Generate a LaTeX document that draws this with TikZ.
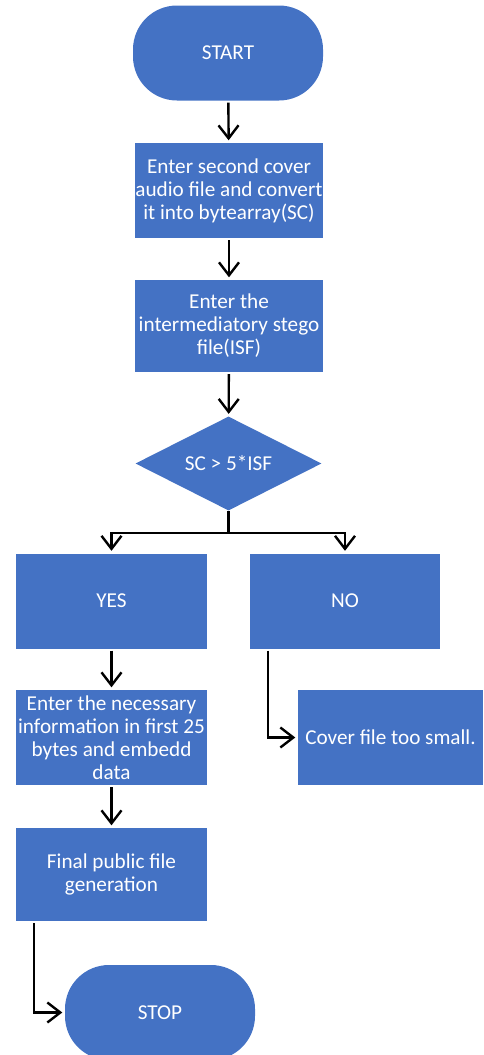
\documentclass[tikz,border=0pt]{standalone}
\usepackage{fontspec}
\setmainfont{Carlito}
\usetikzlibrary{shapes.geometric,arrows.meta,calc}
\definecolor{boxblue}{HTML}{4472C4}
\begin{document}
\begin{tikzpicture}[x=1pt,y=-1pt,
  font=\fontsize{21.2}{23}\selectfont,
  base/.style={fill=boxblue,draw=none,text=white,align=center,inner sep=0pt},
  procbox/.style={base,rectangle,minimum width=#1,minimum height=95pt},
  procbox/.default=191pt,
  terminal/.style={base,rectangle,rounded corners=44pt,minimum width=190pt,minimum height=95pt},
  decision/.style={base,diamond,aspect=2,minimum width=186pt,minimum height=94pt},
  wire/.style={draw=black,line width=2.4pt},
  flow/.style={wire,-{Straight Barb[length=13pt,width=20pt,line width=2.4pt]},shorten <=2pt,shorten >=2.5pt}]
\useasboundingbox (0,0) rectangle (483,1055);

% main column
\node[terminal] (start) at (228,53) {START};
\node[procbox=188pt] (cover) at (229,190.5) {Enter second cover\\audio file and convert\\it into bytearray(SC)};
\node[procbox=188pt,minimum height=92pt] (isf) at (229,326) {Enter the\\intermediatory stego\\file(ISF)};
\node[decision] (dec) at (228.5,463.5) {SC > 5*ISF};

% branches
\node[procbox] (yes) at (111.5,601) {YES};
\node[procbox=190pt] (no) at (345,601) {NO};
\node[procbox] (info) at (111.5,737.5) {Enter the necessary\\information in first 25\\bytes and embedd\\data};
\node[procbox=185pt] (small) at (390.5,737.5) {Cover file too small.};
\node[procbox,minimum height=93pt] (final) at (111.5,874.5) {Final public file\\generation};
\node[terminal] (stop) at (160,1012.5) {STOP};

% connectors
\draw[flow] (start) -- (cover);
\draw[flow] (cover) -- (isf);
\draw[flow] (isf) -- (dec);
\coordinate (split) at ($(dec.south)+(0,22)$);
\draw[wire] (dec.south) -- (split);
\draw[flow,shorten <=0pt] (split) -| (yes.north);
\draw[flow,shorten <=0pt] (split) -| (no.north);
\draw[flow] (yes) -- (info);
\coordinate (nofoot) at ([xshift=18pt]no.south west);
\draw[flow] (nofoot) |- (small.west);
\draw[flow] (info) -- (final);
\coordinate (finalfoot) at ([xshift=18pt]final.south west);
\draw[flow] (finalfoot) |- (stop.west);
\end{tikzpicture}
\end{document}
